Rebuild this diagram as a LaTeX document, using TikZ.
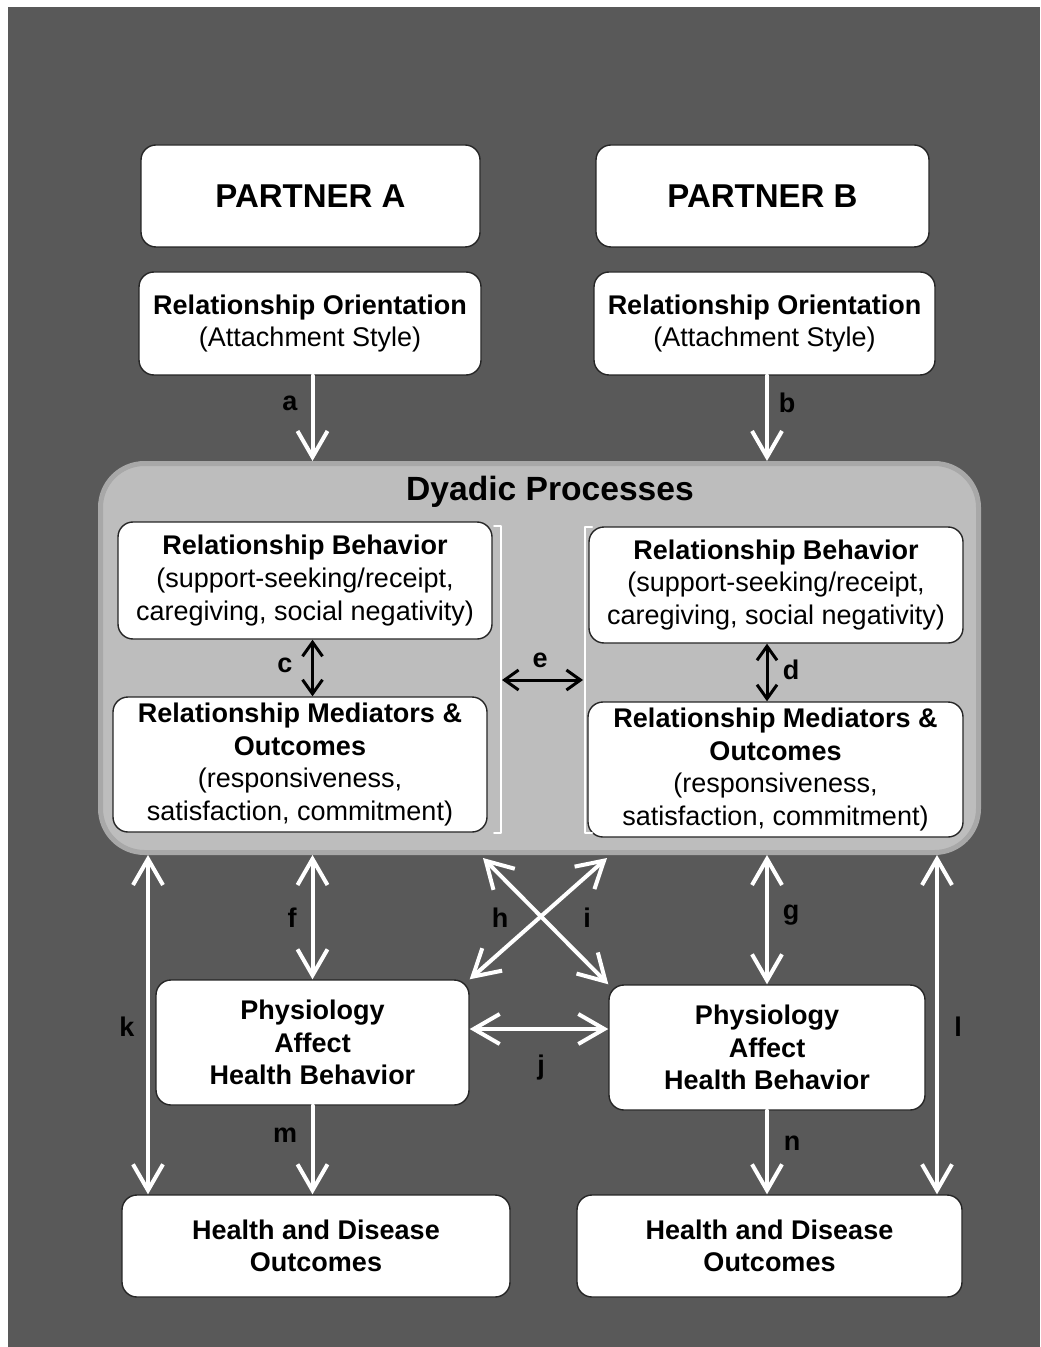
\documentclass[tikz,border=0pt]{standalone}
\usepackage{fontspec}
\setmainfont{Liberation Sans}
\usetikzlibrary{arrows.meta}
\definecolor{bgdark}{HTML}{595959}
\definecolor{dyfill}{HTML}{BDBDBD}
\definecolor{dyline}{HTML}{A8A8A8}
\begin{document}
\begin{tikzpicture}[x=0.5pt,y=-0.5pt,line join=round,line cap=round,
	box/.style={draw=black!85,line width=0.7pt,fill=white,rounded corners=7.5pt,align=center,inner sep=0pt,font=\fontsize{13.5}{16.3}\selectfont},
	bbox/.style={box,font=\fontsize{13.5}{16.3}\selectfont\bfseries},
	lbl/.style={font=\fontsize{13.5}{16}\selectfont\bfseries},
	warr/.style={white,line width=2pt,{Straight Barb[length=13pt,width=15pt]}-{Straight Barb[length=13pt,width=15pt]}},
	wone/.style={white,line width=2pt,-{Straight Barb[length=13pt,width=15pt]}},
	barr/.style={black,line width=1.5pt,{Straight Barb[length=7pt,width=10pt]}-{Straight Barb[length=7pt,width=10pt]}}]
	% page and background
	\fill[white] (0,0) rectangle (1040,1347);
	\fill[bgdark] (8,7) rectangle (1040,1347);
	\useasboundingbox (0,0) rectangle (1040,1347);
	% partners
	\node[bbox,font=\fontsize{16.5}{20}\selectfont\bfseries,minimum width=169.5pt,minimum height=51pt] (pa) at (310.5,196) {PARTNER A};
	\node[bbox,font=\fontsize{16.5}{20}\selectfont\bfseries,minimum width=166.5pt,minimum height=51pt] (pb) at (762.5,196) {PARTNER B};
	\node[box,minimum width=171pt,minimum height=51.5pt] (roa) at (310,323.5) {\textbf{Relationship Orientation}\\(Attachment Style)};
	\node[box,minimum width=170.5pt,minimum height=51.5pt] (rob) at (764.5,323.5) {\textbf{Relationship Orientation}\\(Attachment Style)};
	% dyadic processes
	\node[draw=dyline,fill=dyfill,line width=2.5pt,rounded corners=22pt,minimum width=439pt,minimum height=194.5pt,inner sep=0pt] (dy) at (539.5,658) {};
	\node[lbl,font=\fontsize{16.8}{20}\selectfont\bfseries] (dytitle) at (550,492) {Dyadic Processes};
	\node[box,minimum width=187pt,minimum height=58.5pt] (rba) at (305,580.5) {\textbf{Relationship Behavior}\\(support-seeking/receipt,\\caregiving, social negativity)};
	\node[box,minimum width=187pt,minimum height=67.5pt] (rma) at (300,764.5) {\textbf{Relationship Mediators \&}\\\textbf{Outcomes}\\(responsiveness,\\satisfaction, commitment)};
	\node[box,minimum width=187pt,minimum height=58pt] (rbb) at (776,585) {\textbf{Relationship Behavior}\\(support-seeking/receipt,\\caregiving, social negativity)};
	\node[box,minimum width=187.5pt,minimum height=67.5pt] (rmb) at (775.5,769.5) {\textbf{Relationship Mediators \&}\\\textbf{Outcomes}\\(responsiveness,\\satisfaction, commitment)};
	% brackets
	\draw[white,line width=1pt] (494,526) -- (501,526) -- (501,833) -- (494,833);
	\draw[white,line width=1pt] (592,527) -- (585,527) -- (585,833) -- (592,833);
	\coordinate (brA) at (502,680);
	\coordinate (brB) at (583,680);
	% health
	\node[bbox,minimum width=156.5pt,minimum height=62.5pt] (pha) at (312.5,1042.5) {Physiology\\Affect\\Health Behavior};
	\node[bbox,minimum width=158pt,minimum height=62.5pt] (phb) at (767,1047.5) {Physiology\\Affect\\Health Behavior};
	\node[bbox,minimum width=194pt,minimum height=51pt] (hda) at (316,1246) {Health and Disease\\Outcomes};
	\node[bbox,minimum width=192.5pt,minimum height=51pt] (hdb) at (769.5,1246) {Health and Disease\\Outcomes};
	% connectors
	\coordinate (kx) at (148,0);
	\coordinate (lx) at (937,0);
	\coordinate (jy) at (0,1029);
	\coordinate (h1) at (483,858);
	\coordinate (i1) at (607,858);
	\draw[wone] (roa.south -| pha) -- (pha |- dy.north);
	\draw[wone] (rob.south -| phb) -- (phb |- dy.north);
	\draw[barr] (rba.south -| pha) -- (rma.north -| pha);
	\draw[barr] (rbb.south -| phb) -- (rmb.north -| phb);
	\draw[barr] (brA) -- (brB);
	\draw[warr] (dy.south -| pha) -- (pha.north);
	\draw[warr] (dy.south -| phb) -- (phb.north);
	\draw[warr] (dy.south -| kx) -- (hda.north -| kx);
	\draw[warr] (dy.south -| lx) -- (hdb.north -| lx);
	\draw[warr] (h1) -- (phb.north west);
	\draw[warr] (i1) -- (pha.north east);
	\draw[warr] (pha.east |- jy) -- (phb.west |- jy);
	\draw[wone] (pha.south) -- (pha.south |- hda.north);
	\draw[wone] (phb.south) -- (phb.south |- hdb.north);
	% path labels
	\foreach \x/\y/\t in {290/403/a,787/403/b,285/665/c,791/670/d,540/660/e,292/918/f,791/915/g,500/918/h,587/918/i,541/1068/j,127/1027/k,958/1027/l,285/1135/m,792/1143/n}
	\node[lbl] (l\t) at (\x,\y) {\t};
\end{tikzpicture}
\end{document}
